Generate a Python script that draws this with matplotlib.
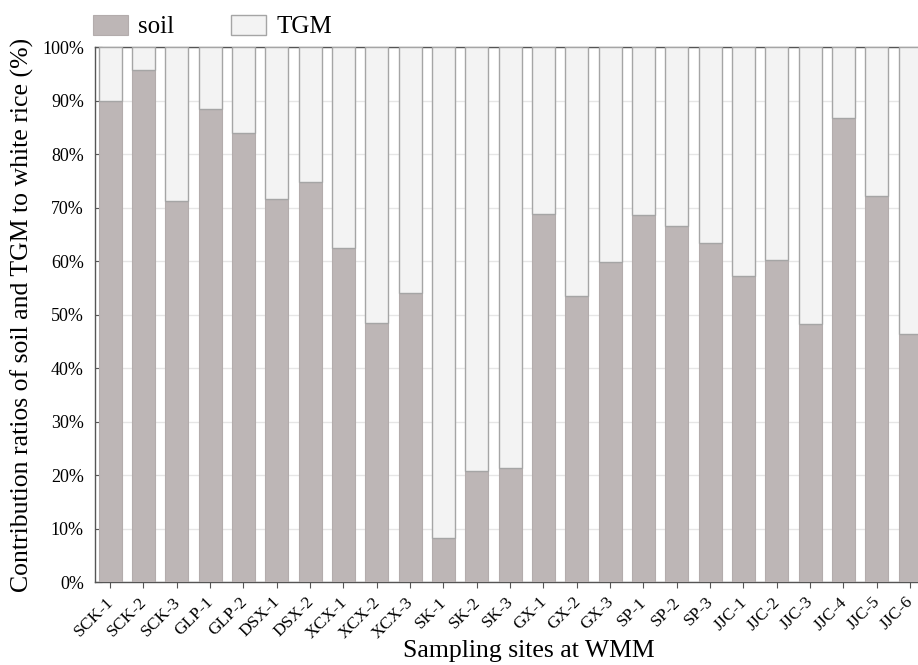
import numpy as np
import matplotlib
matplotlib.use("Agg")
from matplotlib import pyplot as plt
from matplotlib import transforms
from matplotlib.ticker import PercentFormatter

plt.rcParams['font.family'] = ['Liberation Serif', 'DejaVu Serif']

# sampling sites and soil share (%), TGM is the remainder
sites = ["SCK-1", "SCK-2", "SCK-3", "GLP-1", "GLP-2", "DSX-1", "DSX-2",
         "XCX-1", "XCX-2", "XCX-3", "SK-1", "SK-2", "SK-3", "GX-1", "GX-2",
         "GX-3", "SP-1", "SP-2", "SP-3", "JJC-1", "JJC-2", "JJC-3", "JJC-4",
         "JJC-5", "JJC-6"]
soil = [90.0, 95.8, 71.2, 88.4, 84.0, 71.6, 74.8,
        62.5, 48.5, 54.0, 8.3, 20.7, 21.4, 68.8, 53.4,
        59.8, 68.6, 66.6, 63.4, 57.3, 60.2, 48.2, 86.8,
        72.2, 46.4]
tgm = [100 - s for s in soil]

fig = plt.figure(figsize=(9.18, 6.65), dpi=100)
ax = fig.add_axes([0.1035, 0.1248, 0.906, 0.8042])

x = np.arange(len(sites))
w = 0.69
ax.bar(x, soil, w, color="#bdb6b6", edgecolor="#b3acac", linewidth=0.8,
       label="soil", zorder=3)
ax.bar(x, tgm, w, bottom=soil, color="#f3f3f3", edgecolor="#a5a5a5",
       linewidth=1.0, label="TGM", zorder=3)

ax.set_xlim(-0.45, 24.5)
ax.set_ylim(0, 100)
ax.set_yticks(np.arange(0, 101, 10))
ax.yaxis.set_major_formatter(PercentFormatter(decimals=0))
ax.grid(axis="y", color="#e6e6e6", linewidth=1.0, zorder=0)
ax.set_axisbelow(True)

ax.set_xticks(x)
ax.tick_params(axis="y", direction="in", length=5, labelsize=13,
               color="#555555", pad=8)
ax.tick_params(axis="x", direction="out", length=4, color="#555555",
               labelbottom=False)
# rotated site labels, ending just left of and below each tick
shift = transforms.ScaledTranslation(-0.045, -0.12, fig.dpi_scale_trans)
lab_tr = ax.get_xaxis_transform() + shift
for xi, name in zip(x, sites):
    ax.text(xi, 0, name, transform=lab_tr, rotation=45, ha="right",
            va="top", rotation_mode="anchor", fontsize=12.5)

for side in ["left", "bottom", "top"]:
    ax.spines[side].set_color("#555555")
    ax.spines[side].set_linewidth(1.0)
ax.spines["right"].set_visible(False)

ax.set_xlabel("Sampling sites at WMM", fontsize=18.5, va="bottom")
ax.xaxis.set_label_coords(0.521, -0.149)
ax.set_ylabel("Contribution ratios of soil and TGM to white rice (%)",
              fontsize=18.5, labelpad=6)

ax.legend(loc="lower left", bbox_to_anchor=(-0.015, 0.998), ncol=2,
          frameon=False, fontsize=18, handlelength=1.4, handleheight=0.84,
          columnspacing=2.3, handletextpad=0.4, borderaxespad=0.0)

fig.savefig("out.png", dpi=100)
